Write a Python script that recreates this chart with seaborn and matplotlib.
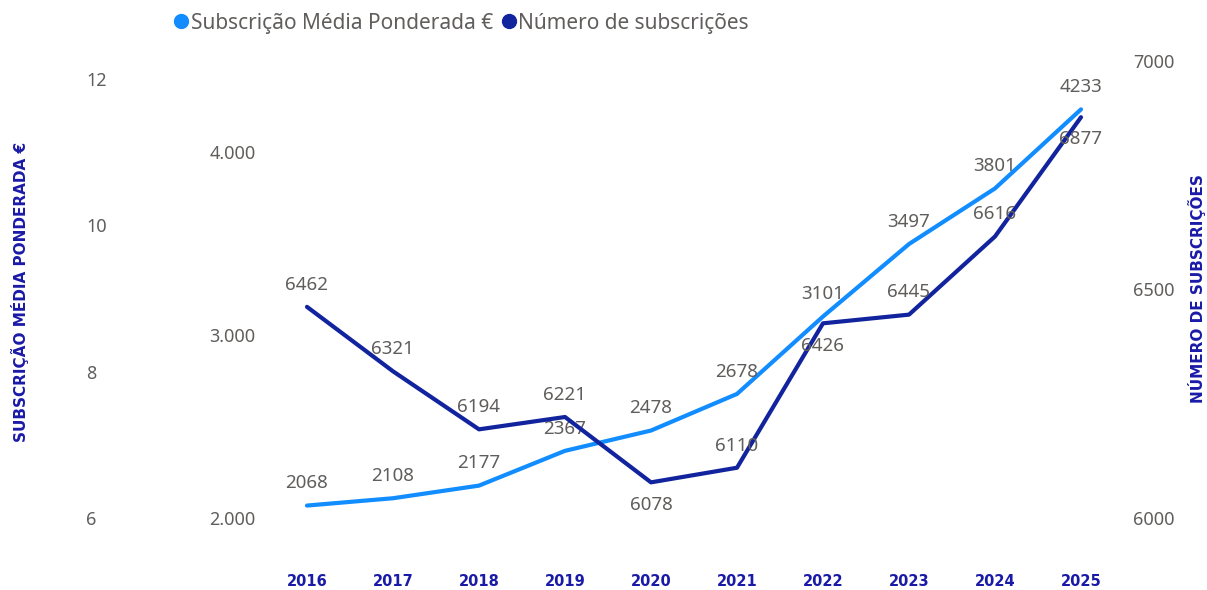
import matplotlib
matplotlib.use("Agg")
import matplotlib.pyplot as plt
import seaborn as sns
import pandas as pd
from matplotlib.lines import Line2D

years = [2016, 2017, 2018, 2019, 2020, 2021, 2022, 2023, 2024, 2025]
media_ponderada = [2068, 2108, 2177, 2367, 2478, 2678, 3101, 3497, 3801, 4233]
num_subscricoes = [6462, 6321, 6194, 6221, 6078, 6110, 6426, 6445, 6616, 6877]
below_num = [False, False, False, False, True, False, True, False, False, True]

left_ticks = [2000, 3000, 4000]
left_ticklabels = ["2.000", "3.000", "4.000"]
right_ticks = [6000, 6500, 7000]
ghost_ticks = [6, 8, 10, 12]

series1 = "Subscrição Média Ponderada €"
series2 = "Número de subscrições"
title_left = "SUBSCRIÇÃO MÉDIA PONDERADA €"
title_right = "NÚMERO DE SUBSCRIÇÕES"

C_LIGHT = "#118DFF"
C_DARK = "#12239E"
C_TITLE = "#1A1AA8"
C_TEXT = "#605E5C"

sns.set_theme(style="white")
plt.rcParams["font.family"] = ["Noto Sans", "DejaVu Sans"]

df = pd.DataFrame({"year": years, "media": media_ponderada, "num": num_subscricoes})

W, H = 1207, 590
fig = plt.figure(figsize=(W / 100, H / 100), dpi=100)
L, R, T, B = 264, 1124, 61, 518
ax = fig.add_axes([L / W, (H - B) / H, (R - L) / W, (B - T) / H])
ax2 = ax.twinx()
ax3 = ax.twinx()

sns.lineplot(data=df, x="year", y="media", ax=ax, color=C_LIGHT, linewidth=3, legend=False)
sns.lineplot(data=df, x="year", y="num", ax=ax2, color=C_DARK, linewidth=3, legend=False)

ax.set_xlim(2015.5, 2025.5)
ax.set_ylim(2000, 2000 + (B - T) / 183 * 1000)
ax2.set_ylim(6000, 7000)
ax3.set_ylim(6, 6 + (B - T) * 6 / 439)

for a in (ax, ax2, ax3):
    for s in a.spines.values():
        s.set_visible(False)
    a.set_xlabel("")
    a.set_ylabel("")
    a.grid(False)

ax.set_xticks(years)
ax.set_xticklabels([str(y) for y in years], fontsize=10.5, fontweight="bold",
                   color=C_TITLE, family=["DejaVu Sans"])
ax.tick_params(axis="x", length=0, pad=(584 - B) * 0.72 - 7)

ax.set_yticks(left_ticks)
ax.set_yticklabels(left_ticklabels, fontsize=13, color=C_TEXT)
ax.tick_params(axis="y", length=0, pad=6)

ax2.set_yticks(right_ticks)
ax2.set_yticklabels([str(v) for v in right_ticks], fontsize=13, color=C_TEXT)
ax2.tick_params(axis="y", length=0, pad=6.5)

ax3.yaxis.tick_left()
ax3.set_yticks(ghost_ticks)
ax3.set_yticklabels([str(v) for v in ghost_ticks], fontsize=13, color=C_TEXT)
for lab in ax3.get_yticklabels():
    lab.set_horizontalalignment("left")
ax3.tick_params(axis="y", length=0, pad=(L - 86) * 0.72)

off = 16
for x, y in zip(years, media_ponderada):
    ax.annotate(str(y), (x, y), xytext=(0, off), textcoords="offset points",
                ha="center", va="center", fontsize=13.5, color=C_TEXT, zorder=5)
for x, y, b in zip(years, num_subscricoes, below_num):
    ax2.annotate(str(y), (x, y), xytext=(0, -off if b else off), textcoords="offset points",
                 ha="center", va="center", fontsize=13.5, color=C_TEXT, zorder=5)

fig.text(20 / W, 1 - 292 / H, title_left, rotation=90, ha="center", va="center",
         fontsize=11, fontweight="bold", color=C_TITLE, family=["DejaVu Sans"])
fig.text(1197 / W, 1 - 289 / H, title_right, rotation=90, ha="center", va="center",
         fontsize=11, fontweight="bold", color=C_TITLE, family=["DejaVu Sans"])

handles = [Line2D([], [], marker="o", linestyle="", color=C_LIGHT, markersize=10),
           Line2D([], [], marker="o", linestyle="", color=C_DARK, markersize=10)]
fig.legend(handles, [series1, series2], loc="center left",
           bbox_to_anchor=(172 / W, 1 - 23 / H), ncol=2, frameon=False,
           fontsize=15, labelcolor=C_TEXT, handletextpad=0.0, columnspacing=0.3,
           handlelength=0.9, borderaxespad=0, borderpad=0)

fig.savefig("out.png", dpi=100, facecolor="white")
